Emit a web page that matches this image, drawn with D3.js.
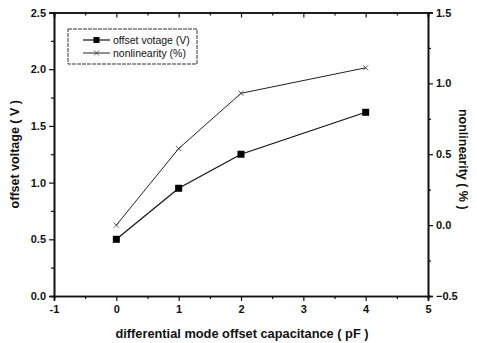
<!DOCTYPE html>
<html>
<head>
<meta charset="utf-8">
<script src="https://cdn.jsdelivr.net/npm/d3@7"></script>
<style>
  body { margin: 0; background: #fff; }
  #chart text { font-family: "Liberation Sans", Arial, sans-serif; fill: #111; }
  .axis path, .axis line { stroke: #111; }
</style>
</head>
<body>
<div id="chart"></div>
<script>
// capacitance steps (pF)
var capacitance = [0, 1, 2, 4];
// offset voltage (V), left axis
var offsetVoltage = [0.50, 0.95, 1.25, 1.62];
// nonlinearity (%), right axis
var nonlinearity = [0.00, 0.54, 0.93, 1.11];

var xTicks = [-1, 0, 1, 2, 3, 4, 5];
var yLeftTicks = [0.0, 0.5, 1.0, 1.5, 2.0, 2.5];
var yRightTicks = [-0.5, 0.0, 0.5, 1.0, 1.5];

var legendLabels = ["offset votage (V)", "nonlinearity (%)"];

var margin = {top: 12.5, right: 49, bottom: 47, left: 54},
    width = 477 - margin.left - margin.right,
    height = 343 - margin.top - margin.bottom;

var x = d3.scaleLinear().domain([-1, 5]).range([0, width]);
var yL = d3.scaleLinear().domain([0, 2.5]).range([height, 0]);
var yR = d3.scaleLinear().domain([-0.5, 1.5]).range([height, 0]);

var svg = d3.select("#chart").append("svg")
    .attr("width", 477)
    .attr("height", 343)
  .append("g")
    .attr("transform", "translate(" + margin.left + "," + margin.top + ")");

var fmt1 = d3.format(".1f");
var fmtX = function(d) { return d; };

// minor ticks halfway between majors
function minors(scale, step) {
  var dom = scale.domain(), out = [];
  for (var v = dom[0] + step / 2; v < dom[1]; v += step) out.push(v);
  return out;
}

// minor tick layers first, majors with labels on top
svg.append("g").attr("class", "axis")
    .attr("transform", "translate(0," + height + ")")
    .call(d3.axisBottom(x).tickValues(minors(x, 1)).tickSize(3).tickFormat(""));
svg.append("g").attr("class", "axis")
    .call(d3.axisTop(x).tickValues(minors(x, 1)).tickSize(-3).tickFormat(""));
svg.append("g").attr("class", "axis")
    .call(d3.axisLeft(yL).tickValues(minors(yL, 0.5)).tickSize(3).tickFormat(""));
svg.append("g").attr("class", "axis")
    .attr("transform", "translate(" + width + ",0)")
    .call(d3.axisRight(yR).tickValues(minors(yR, 0.5)).tickSize(3).tickFormat(""));

var xAxis = svg.append("g").attr("class", "axis")
    .attr("transform", "translate(0," + height + ")")
    .call(d3.axisBottom(x).tickValues(xTicks).tickSize(5).tickPadding(4).tickFormat(fmtX));

svg.append("g").attr("class", "axis")
    .call(d3.axisTop(x).tickValues(xTicks).tickSize(-5).tickFormat(""));

var yAxisL = svg.append("g").attr("class", "axis")
    .call(d3.axisLeft(yL).tickValues(yLeftTicks).tickSize(5).tickPadding(3).tickFormat(fmt1));

var yAxisR = svg.append("g").attr("class", "axis")
    .attr("transform", "translate(" + width + ",0)")
    .call(d3.axisRight(yR).tickValues(yRightTicks).tickSize(5).tickPadding(3).tickFormat(fmt1));

svg.selectAll(".axis path").attr("stroke-width", 1.6);
svg.selectAll(".axis line").attr("stroke-width", 1.2);
svg.selectAll(".axis text").style("font-size", "11px").style("font-weight", "bold");

// axis titles
svg.append("text")
    .attr("x", width / 2 + 1)
    .attr("y", height + 42)
    .attr("text-anchor", "middle")
    .style("font-size", "12.8px").style("font-weight", "bold")
    .text("differential mode offset capacitance ( pF )");

svg.append("text")
    .attr("transform", "translate(" + (-35) + "," + (height / 2) + ") rotate(-90)")
    .attr("text-anchor", "middle")
    .style("font-size", "12.5px").style("font-weight", "bold")
    .text("offset voltage ( V )");

svg.append("text")
    .attr("transform", "translate(" + (width + 31) + "," + (height / 2 + 5) + ") rotate(90)")
    .attr("text-anchor", "middle")
    .style("font-size", "12.5px").style("font-weight", "bold")
    .text("nonlinearity ( % )");

var voltData = capacitance.map(function(c, i) { return {x: c, y: offsetVoltage[i]}; });
var nonlinData = capacitance.map(function(c, i) { return {x: c, y: nonlinearity[i]}; });

var lineL = d3.line().x(function(d) { return x(d.x); }).y(function(d) { return yL(d.y); });
var lineR = d3.line().x(function(d) { return x(d.x); }).y(function(d) { return yR(d.y); });

svg.append("path")
    .datum(nonlinData)
    .attr("fill", "none")
    .attr("stroke", "#222")
    .attr("stroke-width", 1)
    .attr("d", lineR);

svg.append("path")
    .datum(voltData)
    .attr("fill", "none")
    .attr("stroke", "#111")
    .attr("stroke-width", 1.2)
    .attr("d", lineL);

function cross(g, cx, cy, r) {
  g.append("path")
      .attr("d", "M" + (cx - r) + "," + (cy - r) + "L" + (cx + r) + "," + (cy + r) +
                 "M" + (cx - r) + "," + (cy + r) + "L" + (cx + r) + "," + (cy - r))
      .attr("stroke", "#333")
      .attr("stroke-width", 0.8);
}

svg.selectAll(".sq")
    .data(voltData)
  .enter().append("rect")
    .attr("class", "sq")
    .attr("x", function(d) { return x(d.x) - 3.5; })
    .attr("y", function(d) { return yL(d.y) - 3.5; })
    .attr("width", 7)
    .attr("height", 7)
    .attr("fill", "#000");

nonlinData.forEach(function(d) { cross(svg, x(d.x), yR(d.y), 2.5); });

// legend box
var lg = svg.append("g").attr("transform", "translate(" + (68 - margin.left) + "," + (29 - margin.top) + ")");
lg.append("rect")
    .attr("width", 129)
    .attr("height", 35)
    .attr("fill", "#fff")
    .attr("stroke", "#333")
    .attr("stroke-width", 1)
    .attr("stroke-dasharray", "4,1");

lg.append("line").attr("x1", 15).attr("x2", 42).attr("y1", 11).attr("y2", 11)
    .attr("stroke", "#111").attr("stroke-width", 1.2);
lg.append("rect").attr("x", 25.5).attr("y", 8).attr("width", 6).attr("height", 6).attr("fill", "#000");
lg.append("line").attr("x1", 15).attr("x2", 42).attr("y1", 24).attr("y2", 24)
    .attr("stroke", "#222").attr("stroke-width", 1);
cross(lg, 28.5, 24, 2.5);

lg.selectAll(".lt")
    .data(legendLabels)
  .enter().append("text")
    .attr("x", 45)
    .attr("y", function(d, i) { return 15 + i * 13; })
    .style("font-size", "10.5px")
    .text(function(d) { return d; });
</script>
</body>
</html>
